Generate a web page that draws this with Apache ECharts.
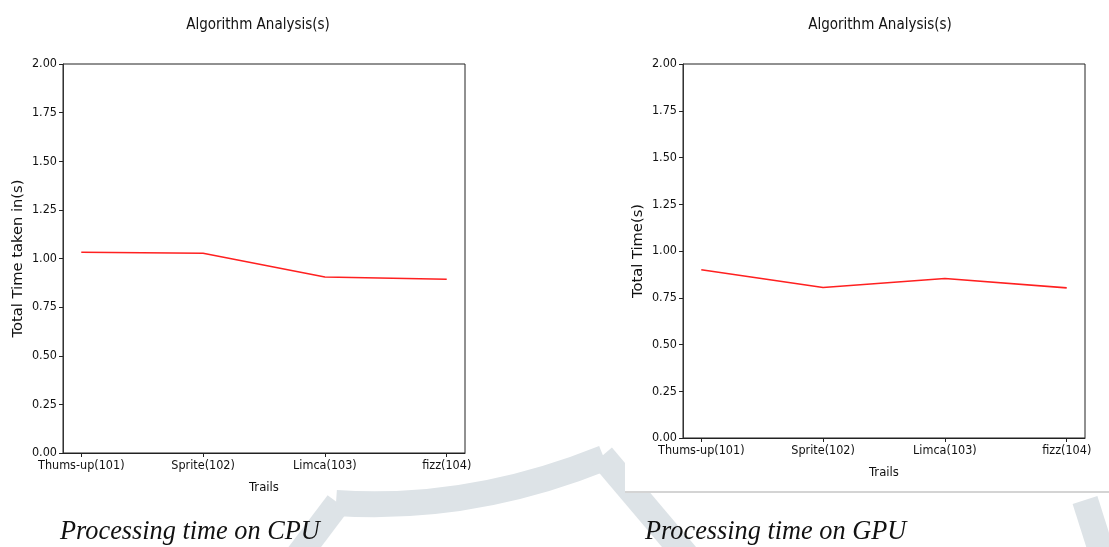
<!DOCTYPE html>
<html>
<head>
<meta charset="utf-8">
<script src="https://cdn.jsdelivr.net/npm/echarts@6/dist/echarts.min.js"></script>
<style>
  html, body { margin: 0; padding: 0; background: #fff; }
  #chart { width: 1109px; height: 547px; }
</style>
</head>
<body>
<div id="chart"></div>
<script>
// data
var trails = ['Thums-up(101)', 'Sprite(102)', 'Limca(103)', 'fizz(104)']
var cpuTimes = [1.032, 1.027, 0.905, 0.893]
var gpuTimes = [0.90, 0.805, 0.853, 0.803]

var tickFont = 'DejaVu Sans Condensed'
var wm = '#dde3e7'

function xAxisFor(grid) {
  return {
    gridIndex: grid,
    type: 'value',
    min: -0.15,
    max: 3.15,
    name: 'Trails',
    nameLocation: 'middle',
    nameGap: 28,
    nameTextStyle: { fontFamily: tickFont, fontSize: 13, color: '#111' },
    axisLine: { show: true, onZero: false, lineStyle: { color: '#222', width: 1 } },
    axisTick: { show: true, length: 4, customValues: [0, 1, 2, 3], lineStyle: { color: '#222' } },
    axisLabel: {
      customValues: [0, 1, 2, 3],
      margin: 6,
      fontFamily: tickFont, fontSize: 12.5, color: '#111',
      formatter: function (v) { return trails[Math.round(v)] }
    },
    splitLine: { show: false }
  }
}

function yAxisFor(grid, name) {
  return {
    gridIndex: grid,
    type: 'value',
    min: 0,
    max: 2,
    interval: 0.25,
    name: name,
    nameLocation: 'middle',
    nameGap: 37,
    nameTextStyle: { fontFamily: 'DejaVu Sans', fontSize: 14.7, color: '#111' },
    axisLine: { show: true, onZero: false, lineStyle: { color: '#333', width: 1 } },
    axisTick: { show: true, length: 4, lineStyle: { color: '#222' } },
    axisLabel: {
      margin: 6,
      fontFamily: tickFont, fontSize: 12.5, color: '#111',
      formatter: function (v) { return v.toFixed(2) }
    },
    splitLine: { show: false }
  }
}

var chart = echarts.init(document.getElementById('chart'))
chart.setOption({
  backgroundColor: '#fff',
  animation: false,
  graphic: [
    // watermark behind the figures
    { type: 'line', z: -10, shape: { x1: 295, y1: 560, x2: 338, y2: 503 },
      style: { stroke: wm, lineWidth: 26 } },
    { type: 'bezierCurve', z: -10, shape: { x1: 336, y1: 503, cpx1: 470, cpy1: 512, x2: 604, y2: 458 },
      style: { stroke: wm, lineWidth: 26, fill: null } },
    { type: 'line', z: -10, shape: { x1: 602, y1: 456, x2: 690, y2: 560 },
      style: { stroke: wm, lineWidth: 26 } },
    { type: 'line', z: -10, shape: { x1: 1085, y1: 500, x2: 1104, y2: 560 },
      style: { stroke: wm, lineWidth: 26 } },
    // right figure sheet
    { type: 'rect', z: -5, shape: { x: 625, y: 0, width: 484, height: 491 }, style: { fill: '#fff' } },
    { type: 'line', z: -4, shape: { x1: 625, y1: 492, x2: 1109, y2: 492 },
      style: { stroke: '#d4d4d4', lineWidth: 2 } },
    // titles
    { type: 'text', x: 258, y: 25, style: { text: 'Algorithm Analysis(s)', fontFamily: tickFont, fontSize: 15,
      fill: '#111', align: 'center', verticalAlign: 'middle' } },
    { type: 'text', x: 880, y: 25, style: { text: 'Algorithm Analysis(s)', fontFamily: tickFont, fontSize: 15,
      fill: '#111', align: 'center', verticalAlign: 'middle' } },
    // captions
    { type: 'text', x: 60, y: 532, style: { text: 'Processing time on CPU', fontFamily: 'Liberation Serif',
      fontStyle: 'italic', fontSize: 26.3, fill: '#111', verticalAlign: 'middle' } },
    { type: 'text', x: 645, y: 532, style: { text: 'Processing time on GPU', fontFamily: 'Liberation Serif',
      fontStyle: 'italic', fontSize: 26.3, fill: '#111', verticalAlign: 'middle' } }
  ],
  grid: [
    { left: 63, top: 64, width: 402, height: 389, show: true, borderColor: '#222', borderWidth: 1, backgroundColor: '#fff' },
    { left: 683, top: 64, width: 402, height: 374, show: true, borderColor: '#222', borderWidth: 1, backgroundColor: '#fff' }
  ],
  xAxis: [xAxisFor(0), xAxisFor(1)],
  yAxis: [yAxisFor(0, 'Total Time taken in(s)'), yAxisFor(1, 'Total Time(s)')],
  series: [
    {
      type: 'line', xAxisIndex: 0, yAxisIndex: 0, symbol: 'none',
      lineStyle: { color: '#ff2020', width: 1.6 },
      data: cpuTimes.map(function (v, i) { return [i, v] })
    },
    {
      type: 'line', xAxisIndex: 1, yAxisIndex: 1, symbol: 'none',
      lineStyle: { color: '#ff2020', width: 1.6 },
      data: gpuTimes.map(function (v, i) { return [i, v] })
    }
  ]
})
</script>
</body>
</html>
